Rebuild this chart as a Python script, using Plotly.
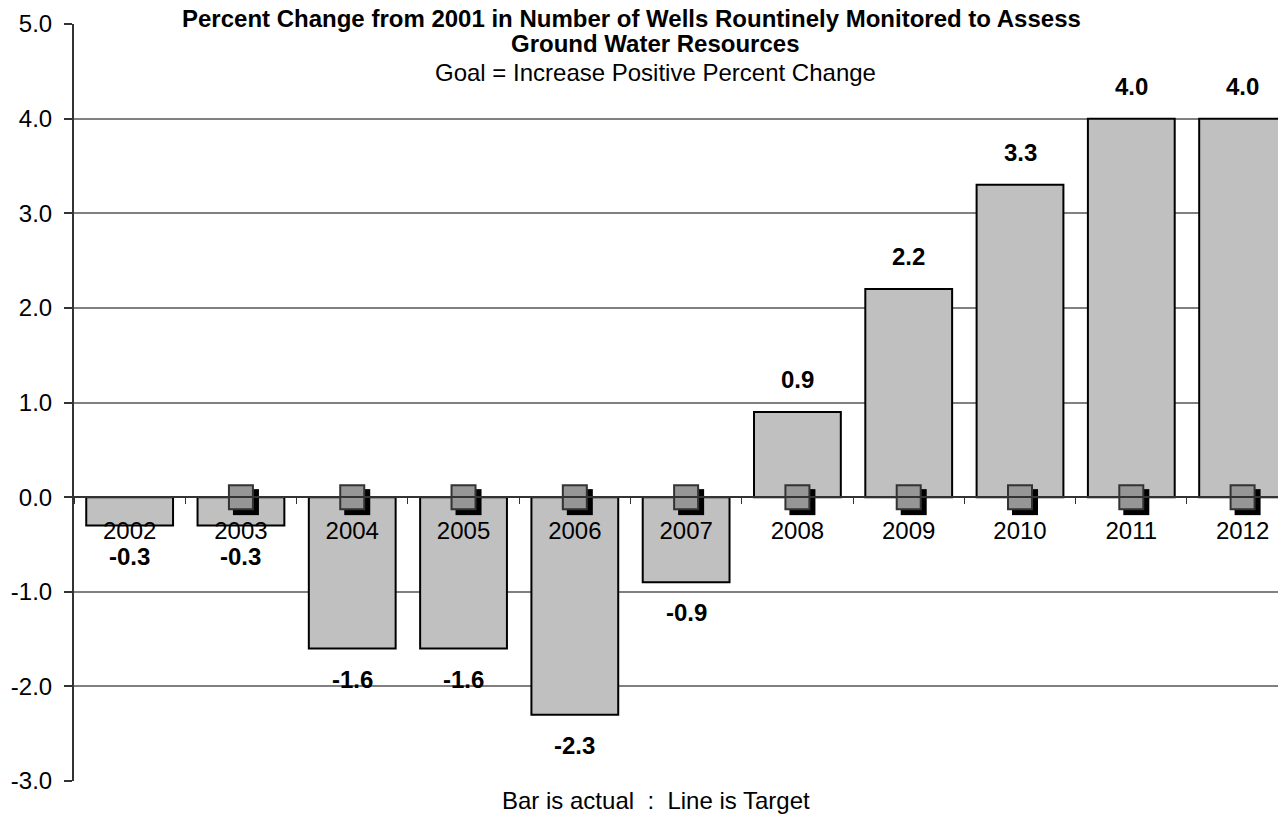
import plotly.graph_objects as go

years = ["2002", "2003", "2004", "2005", "2006", "2007", "2008", "2009", "2010", "2011", "2012"]
actual = [-0.3, -0.3, -1.6, -1.6, -2.3, -0.9, 0.9, 2.2, 3.3, 4.0, 4.0]
target_years = ["2003", "2004", "2005", "2006", "2007", "2008", "2009", "2010", "2011", "2012"]
target = [0.0, 0.0, 0.0, 0.0, 0.0, 0.0, 0.0, 0.0, 0.0, 0.0]
y_ticks = [-3, -2, -1, 0, 1, 2, 3, 4, 5]

FONT = "Liberation Sans, Arial, sans-serif"
W, H = 1286, 821
# the page body adds an 8px offset, margins account for it
M = dict(l=66, r=8, t=16, b=48)
x_range = [-0.5, 10.39]
y_range = [-3, 5]

# pixel scale of the plot, used to push the marker shadow a few px down/right
plot_w = W - M["l"] - M["r"]
plot_h = H - M["t"] - M["b"]
dx = 5 * (x_range[1] - x_range[0]) / plot_w
dy = 5 * (y_range[1] - y_range[0]) / plot_h

fig = go.Figure()

fig.add_trace(go.Bar(
    x=years, y=actual, width=0.78,
    marker=dict(color="#C0C0C0", line=dict(color="#000000", width=2)),
    hoverinfo="skip", showlegend=False,
))

# drop shadow of the target markers
fig.add_trace(go.Scatter(
    x=target_years, y=target, mode="markers", xaxis="x2", yaxis="y2",
    marker=dict(symbol="square", size=26, color="#000000", line=dict(width=0)),
    hoverinfo="skip", showlegend=False,
))

fig.add_trace(go.Scatter(
    x=target_years, y=target, mode="markers", xaxis="x3", yaxis="y3",
    marker=dict(symbol="square", size=24, color="#969696", line=dict(color="#333333", width=2)),
    hoverinfo="skip", showlegend=False,
))

annotations = []
for i, v in enumerate(actual):
    annotations.append(dict(
        x=i, y=v, xref="x", yref="y", text=f"<b>{v:.1f}</b>", showarrow=False,
        yanchor="bottom" if v > 0 else "top", yshift=17 if v > 0 else -15,
        font=dict(family=FONT, size=24, color="#000000"),
    ))

title_x = 0.48
annotations += [
    dict(x=0.46, y=1, xref="paper", yref="paper", yanchor="middle", yshift=6, showarrow=False,
         text="<b>Percent Change from 2001 in Number of Wells Rountinely Monitored to Assess</b>",
         font=dict(family=FONT, size=24, color="#000000")),
    dict(x=title_x, y=1, xref="paper", yref="paper", yanchor="middle", yshift=-19, showarrow=False,
         text="<b>Ground Water Resources</b>",
         font=dict(family=FONT, size=24, color="#000000")),
    dict(x=title_x, y=1, xref="paper", yref="paper", yanchor="middle", yshift=-48, showarrow=False,
         text="Goal = Increase Positive Percent Change",
         font=dict(family=FONT, size=24, color="#000000")),
    dict(x=title_x, y=0, xref="paper", yref="paper", yanchor="middle", yshift=-19, showarrow=False,
         text="Bar is actual\u00a0 :\u00a0 Line is Target",
         font=dict(family=FONT, size=24, color="#000000")),
]

fig.update_layout(
    width=W, height=H, margin=M,
    paper_bgcolor="white", plot_bgcolor="white",
    showlegend=False, bargap=0.22,
    font=dict(family=FONT, size=24, color="#000000"),
    xaxis=dict(
        type="category", categoryorder="array", categoryarray=years, range=x_range,
        anchor="free", position=(0 - y_range[0]) / (y_range[1] - y_range[0]),
        showline=True, linecolor="#333333", linewidth=2, automargin=False,
        ticks="outside", tickson="boundaries", ticklen=6, tickwidth=1, tickcolor="#333333",
        ticklabelstandoff=12, showgrid=False, zeroline=False,
        tickfont=dict(family=FONT, size=24, color="#000000"),
    ),
    yaxis=dict(
        range=y_range, tickvals=y_ticks, ticktext=[f"{v:.1f}" for v in y_ticks], automargin=False,
        showline=True, linecolor="#333333", linewidth=2,
        ticks="outside", ticklen=8, tickwidth=1.5, tickcolor="#333333", ticklabelstandoff=7,
        showgrid=True, gridcolor="#808080", gridwidth=2, zeroline=False,
        tickfont=dict(family=FONT, size=24, color="#000000"),
    ),
    xaxis2=dict(overlaying="x", type="category", categoryorder="array", categoryarray=years,
                range=[x_range[0] - dx, x_range[1] - dx], visible=False),
    yaxis2=dict(overlaying="y", range=[y_range[0] + dy, y_range[1] + dy], visible=False),
    xaxis3=dict(overlaying="x", type="category", categoryorder="array", categoryarray=years,
                range=x_range, visible=False),
    yaxis3=dict(overlaying="y", range=y_range, visible=False),
    annotations=annotations,
)

fig.write_html("out.html")
